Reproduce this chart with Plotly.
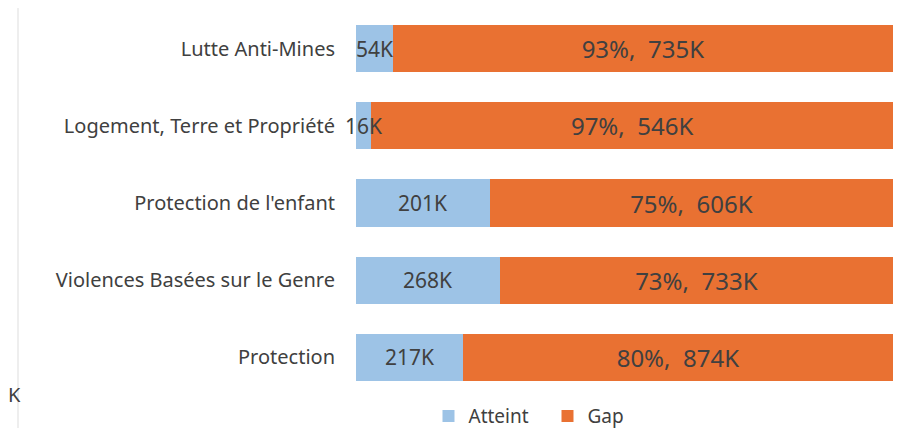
import plotly.graph_objects as go

categories = ["Lutte Anti-Mines", "Logement, Terre et Propriété", "Protection de l'enfant",
              "Violences Basées sur le Genre", "Protection"]
atteint_k = [54, 16, 201, 268, 217]
gap_k = [735, 546, 606, 733, 874]
gap_pct_labels = ["93%", "97%", "75%", "73%", "80%"]

totals = [a + g for a, g in zip(atteint_k, gap_k)]
atteint_pct = [a / t * 100 for a, t in zip(atteint_k, totals)]
gap_pct = [g / t * 100 for g, t in zip(gap_k, totals)]

FONT = "Noto Sans"
TXT = "#404040"
BLUE = "#9DC3E6"
ORANGE = "#E97132"

fig = go.Figure()
fig.add_trace(go.Bar(
    y=categories, x=atteint_pct, name="Atteint", orientation="h",
    marker=dict(color=BLUE, line=dict(width=0)),
    hoverinfo="skip",
))
fig.add_trace(go.Bar(
    y=categories, x=gap_pct, name="Gap", orientation="h",
    marker=dict(color=ORANGE, line=dict(width=0)),
    text=[f"{p},  {g}K" for p, g in zip(gap_pct_labels, gap_k)],
    textposition="inside", insidetextanchor="middle",
    textfont=dict(family=FONT, size=24, color=TXT),
    hoverinfo="skip",
))

for c, a, v in zip(categories, atteint_pct, atteint_k):
    fig.add_annotation(x=a / 2, y=c, xref="x", yref="y", text=f"{v}K",
                       showarrow=False, font=dict(family=FONT, size=21, color=TXT))

# artifacts from the cropped source image
fig.add_shape(type="line", xref="paper", yref="paper", x0=-0.6294, x1=-0.6294, y0=-0.104, y1=1.005,
              line=dict(color="#DDDDDD", width=1))
fig.add_annotation(xref="paper", yref="paper", x=-0.652, y=0.003, text="K",
                   showarrow=False, xanchor="left", yanchor="middle",
                   font=dict(family=FONT, size=20, color=TXT))

fig.update_layout(
    width=916, height=428,
    barmode="stack", bargap=0.39,
    margin=dict(l=348, r=31, t=2, b=40, autoexpand=False),
    paper_bgcolor="white", plot_bgcolor="white",
    font=dict(family=FONT, size=20, color=TXT),
    showlegend=True,
    legend=dict(orientation="h", x=0.135, xanchor="left", y=-0.052, yanchor="middle",
                font=dict(family=FONT, size=19, color=TXT), traceorder="normal",
                itemwidth=30, entrywidth=74),
    xaxis=dict(range=[0, 100], visible=False, fixedrange=True),
    yaxis=dict(categoryorder="array", categoryarray=categories[::-1], showgrid=False,
               showline=False, ticks="", ticklabelstandoff=20, automargin=False,
               tickfont=dict(family=FONT, size=20, color=TXT)),
)

fig.write_html("out.html")
